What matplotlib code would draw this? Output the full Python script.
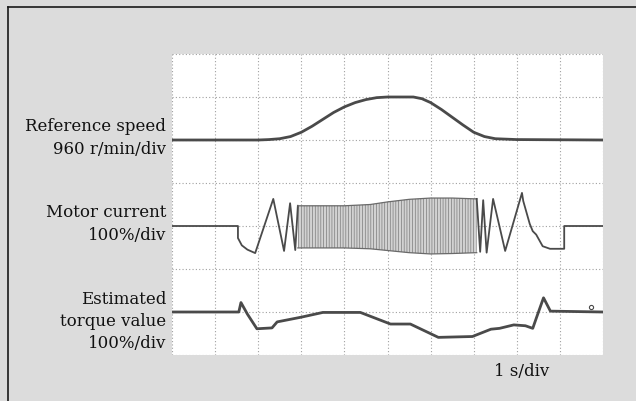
import matplotlib
matplotlib.use("Agg")
import matplotlib.pyplot as plt
from matplotlib.lines import Line2D

# ---- data (time in s, values in divisions on the 7-div screen) ----
speed_t = [0, 2.0, 2.25, 2.5, 2.75, 3.0, 3.25, 3.5, 3.75, 4.0, 4.25, 4.5, 4.75, 5.0,
           5.6, 5.8, 6.0, 6.25, 6.5, 6.75, 7.0, 7.25, 7.5, 8.0, 10]
speed_v = [5.0, 5.0, 5.01, 5.03, 5.08, 5.18, 5.32, 5.48, 5.64, 5.77, 5.87, 5.94, 5.985, 6.0,
           6.0, 5.96, 5.87, 5.71, 5.53, 5.35, 5.18, 5.08, 5.03, 5.01, 5.0]

cur_pre_t = [0, 1.53, 1.53, 1.62, 1.75, 1.93, 2.35, 2.6, 2.74, 2.86, 2.92]
cur_pre_v = [3.0, 3.0, 2.72, 2.55, 2.45, 2.37, 3.63, 2.42, 3.53, 2.44, 3.47]

dense_t = [2.92, 3.5, 4.0, 4.6, 5.0, 5.5, 6.0, 6.5, 7.07]
dense_top = [3.47, 3.47, 3.47, 3.50, 3.56, 3.62, 3.65, 3.65, 3.63]
dense_bot = [2.49, 2.49, 2.49, 2.47, 2.43, 2.38, 2.35, 2.36, 2.38]

cur_post_t = [7.07, 7.15, 7.22, 7.3, 7.45, 7.73, 8.08, 8.12, 8.15, 8.3, 8.37, 8.45, 8.6, 8.77, 9.1, 9.1, 10]
cur_post_v = [3.63, 2.4, 3.6, 2.38, 3.63, 2.42, 3.63, 3.77, 3.58, 3.05, 2.88, 2.8, 2.53, 2.47, 2.47, 3.0, 3.0]

torq_t = [0, 1.55, 1.6, 1.75, 1.97, 2.32, 2.44, 3.0, 3.5, 4.37, 5.07, 5.53, 6.18, 6.97, 7.4, 7.6, 7.93, 8.2, 8.37, 8.45, 8.62, 8.78, 10]
torq_v = [1.0, 1.0, 1.22, 0.95, 0.61, 0.63, 0.77, 0.88, 0.99, 0.99, 0.72, 0.72, 0.41, 0.43, 0.6, 0.62, 0.7, 0.68, 0.62, 0.85, 1.33, 1.02, 1.0]

labels = [("Reference speed", 127), ("960 r/min/div", 150),
          ("Motor current", 212), ("100%/div", 235),
          ("Estimated", 299), ("torque value", 322), ("100%/div", 343)]
time_label = "1 s/div"

plt.rcParams["hatch.linewidth"] = 0.45

W, H = 636, 401
fig = plt.figure(figsize=(W / 100, H / 100), dpi=100)
fig.patch.set_facecolor("#dcdcdc")

ax = fig.add_axes([172 / W, 46 / H, 431 / W, 301 / H])
ax.set_facecolor("white")
ax.set_xlim(0, 10)
ax.set_ylim(0, 7)
for s in ax.spines.values():
    s.set_visible(False)
ax.set_xticks([])
ax.set_yticks([])

grid_kw = dict(color="#a0a0a0", lw=0.8, ls=(0, (1, 2)), zorder=1)
for x in range(11):
    ax.plot([x, x], [0, 7], **grid_kw)
for y in range(8):
    ax.plot([0, 10], [y, y], **grid_kw)

trace = "#4a4a4a"
ax.plot(speed_t, speed_v, color=trace, lw=2.0, zorder=3, solid_joinstyle="round")
ax.plot(cur_pre_t, cur_pre_v, color=trace, lw=1.3, zorder=3)
ax.fill_between(dense_t, dense_bot, dense_top, facecolor="#d2d2d2",
                edgecolor="#727272", hatch="||||||", lw=0, zorder=2)
ax.plot(dense_t, dense_top, color="#6a6a6a", lw=0.9, zorder=3)
ax.plot(dense_t, dense_bot, color="#6a6a6a", lw=0.9, zorder=3)
ax.plot(cur_post_t, cur_post_v, color=trace, lw=1.3, zorder=3)
ax.plot(torq_t, torq_v, color=trace, lw=2.0, zorder=3, solid_joinstyle="round")
ax.plot([9.72], [1.12], marker="o", ms=3, mfc="none", mec=trace, mew=0.8, zorder=3)

font = dict(family="DejaVu Serif", fontsize=12, color="#111111")
for txt, yp in labels:
    fig.text(166 / W, 1 - yp / H, txt, ha="right", va="center", **font)
fig.text(522 / W, 1 - 372 / H, time_label, ha="center", va="center", **font)

fig.add_artist(Line2D([7.5 / W, 1], [1 - 6.5 / H, 1 - 6.5 / H], color="#1a1a1a", lw=1.2))
fig.add_artist(Line2D([7.5 / W, 7.5 / W], [0, 1 - 6.5 / H], color="#1a1a1a", lw=1.2))

fig.savefig("out.png", dpi=100, facecolor=fig.get_facecolor())
